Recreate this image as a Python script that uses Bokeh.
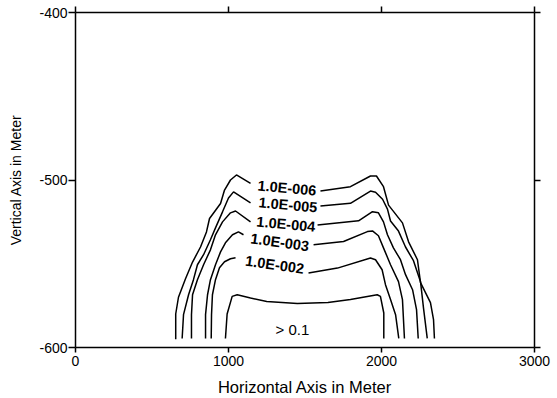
from bokeh.plotting import figure
from bokeh.models import LinearAxis, FixedTicker, ColumnDataSource
from bokeh.core.properties import value
from bokeh.embed import file_html
from bokeh.resources import INLINE

# ---- data ----
x_ticks = [0, 1000, 2000, 3000]
x_tick_labels = ["0", "1000", "2000", "3000"]
y_ticks = [-600, -500, -400]
y_tick_labels = ["-600", "-500", "-400"]

# contour 1.0E-006
e6_left_x = [655, 655, 673, 719, 765, 817, 856, 876, 948, 974, 1013, 1052, 1144]
e6_left_y = [-595, -580, -570, -559, -549, -540, -531, -523, -514, -506, -500, -497, -502]
e6_right_x = [1601, 1797, 1928, 1967, 2013, 2046, 2137, 2177, 2235, 2255, 2320, 2340, 2346]
e6_right_y = [-506.5, -504, -497.6, -497.6, -504, -515, -525.6, -536.9, -547.6, -561.3, -573.2, -583.3, -594.6]

# contour 1.0E-005
e5_left_x = [697, 706, 739, 771, 797, 837, 882, 915, 961, 1000, 1033, 1144]
e5_left_y = [-594.6, -580.4, -568.5, -559.5, -550.6, -544.6, -535.7, -528.6, -519, -510.7, -507.1, -513.7]
e5_right_x = [1601, 1797, 1928, 1961, 2007, 2039, 2059, 2111, 2157, 2209, 2255, 2275, 2299]
e5_right_y = [-515.5, -513.9, -506.6, -507.3, -511.5, -517.4, -524.5, -530.5, -540, -548.2, -560.7, -576.8, -594.6]

# contour 1.0E-004
e4_left_x = [758, 758, 765, 797, 837, 882, 915, 961, 1013, 1046, 1144]
e4_left_y = [-594.6, -580.4, -568.5, -559.5, -550.6, -541.7, -532.7, -525, -519.6, -518.5, -525]
e4_right_x = [1582, 1850, 1941, 1980, 2013, 2039, 2078, 2124, 2157, 2203, 2229, 2240]
e4_right_y = [-526.8, -524.4, -518.9, -519.6, -525, -532.7, -540.5, -547.6, -556.5, -565.5, -577.4, -594.6]

# contour 1.0E-003
e3_left_x = [850, 850, 863, 882, 915, 948, 980, 1026, 1065, 1098]
e3_left_y = [-594.6, -580.4, -568.5, -559.5, -550.6, -542.9, -537.5, -532.7, -531, -532.7]
e3_right_x = [1556, 1752, 1908, 1941, 1980, 2013, 2059, 2111, 2137, 2150]
e3_right_y = [-538.7, -536.7, -530.8, -530.4, -533.3, -540.5, -550.6, -560.7, -571.4, -594.6]

# contour 1.0E-002
e2_left_x = [887, 889, 895, 915, 941, 974, 1013, 1046]
e2_left_y = [-594.6, -580.4, -568.5, -559.5, -552.4, -548.8, -547, -546.4]
e2_right_x = [1523, 1712, 1928, 1961, 2004, 2026, 2059, 2092, 2113]
e2_right_y = [-555.5, -552.6, -546.6, -547.6, -553.6, -562.5, -571.4, -580.4, -594.6]

# contour 0.1
c1_x = [980, 991, 1024, 1057, 1144, 1250, 1450, 1650, 1797, 1972, 1993, 2015, 2015]
c1_y = [-594.6, -580, -569.5, -568.5, -570.5, -572.5, -573.8, -573.2, -571.4, -568.5, -569.5, -579.4, -594.6]

label_text = ["1.0E-006", "1.0E-005", "1.0E-004", "1.0E-003", "1.0E-002"]
label_x = [1382, 1389, 1375, 1335, 1302]
label_y = [-504.8, -514.9, -526.4, -537.2, -550.6]
label_angle = [-0.09, -0.09, -0.09, -0.14, -0.14]

region_text = ["> 0.1"]
region_x = [1418]
region_y = [-589.3]

x_title = "Horizontal Axis in Meter"
y_title = "Vertical Axis in Meter"

FONT = "Liberation Sans"

p = figure(width=557, height=398, x_range=(0, 3000), y_range=(-600, -400),
           output_backend="svg", toolbar_location=None,
           min_border_left=75, min_border_right=23, min_border_top=12, min_border_bottom=50)
p.outline_line_color = None
p.xgrid.visible = False
p.ygrid.visible = False
p.background_fill_color = "white"
p.border_fill_color = "white"

lines = [(e6_left_x, e6_left_y), (e6_right_x, e6_right_y),
         (e5_left_x, e5_left_y), (e5_right_x, e5_right_y),
         (e4_left_x, e4_left_y), (e4_right_x, e4_right_y),
         (e3_left_x, e3_left_y), (e3_right_x, e3_right_y),
         (e2_left_x, e2_left_y), (e2_right_x, e2_right_y),
         (c1_x, c1_y)]
p.multi_line(xs=[l[0] for l in lines], ys=[l[1] for l in lines],
             line_color="black", line_width=1.5)

src = ColumnDataSource(dict(x=label_x, y=label_y, t=label_text, a=label_angle))
p.text(x="x", y="y", text="t", angle="a", source=src,
       text_font=value(FONT), text_font_size="14.5px", text_font_style="bold",
       text_align="center", text_baseline="middle", text_color="black")

src2 = ColumnDataSource(dict(x=region_x, y=region_y, t=region_text))
p.text(x="x", y="y", text="t", source=src2,
       text_font=value(FONT), text_font_size="15px",
       text_align="center", text_baseline="middle", text_color="black")

def style_axis(ax, ticks, labels=None):
    ax.ticker = FixedTicker(ticks=ticks)
    ax.minor_tick_line_color = None
    ax.axis_line_width = 1.5
    ax.major_tick_line_width = 1.5
    ax.major_tick_in = 0
    ax.major_label_text_font = FONT
    ax.major_label_text_font_size = "14px"
    ax.major_label_text_color = "black"
    ax.axis_label_text_font = FONT
    ax.axis_label_text_font_style = "normal"
    ax.axis_label_text_color = "black"
    if labels is None:
        ax.major_label_overrides = {t: "" for t in ticks}
        ax.major_label_standoff = 0
    else:
        ax.major_label_overrides = {t: s for t, s in zip(ticks, labels)}

xa = p.xaxis[0]
style_axis(xa, x_ticks, x_tick_labels)
xa.major_tick_out = 5
xa.major_label_standoff = 3
xa.axis_label = x_title
xa.axis_label_text_font_size = "16.5px"
xa.axis_label_standoff = 9

ya = p.yaxis[0]
style_axis(ya, y_ticks, y_tick_labels)
ya.major_tick_out = 7
ya.major_label_standoff = 1
ya.major_label_orientation = "horizontal"
ya.axis_label = y_title
ya.axis_label_text_font_size = "14px"
ya.axis_label_standoff = 12

top = LinearAxis()
style_axis(top, x_ticks)
top.major_tick_out = 6
p.add_layout(top, "above")

right = LinearAxis()
style_axis(right, y_ticks)
right.major_tick_out = 6
p.add_layout(right, "right")

open("out.html", "w").write(file_html(p, INLINE))
